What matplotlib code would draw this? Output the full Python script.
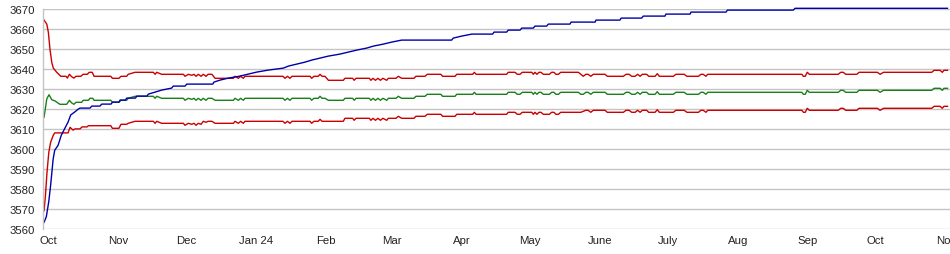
import matplotlib
matplotlib.use("Agg")
import matplotlib.pyplot as plt
import pandas as pd

plt.rcParams['font.family'] = ['Liberation Sans', 'DejaVu Sans']

# x values are days since 2023-10-01
start = pd.Timestamp("2023-10-01")
month_labels = ["Oct", "Nov", "Dec", "Jan 24", "Feb", "Mar", "Apr", "May",
                "June", "July", "Aug", "Sep", "Oct", "Nov"]
month_starts = pd.date_range("2023-10-01", periods=14, freq="MS")
yticks = list(range(3560, 3680, 10))

blue_days = [-1.7, -0.7, 0.4, 1.2, 1.8, 2.3, 3.0, 4.5, 5.9, 7.4, 8.9, 10.1, 11.8, 13.3,
             14.2, 18.6, 19.4, 23.0, 23.8, 27.9, 28.6, 31.4, 31.9, 34.3, 34.8, 38.7,
             39.3, 43.8, 44.4, 47.4, 50.3, 54.7, 55.4, 60.6, 61.4, 72.9, 73.4, 76.1,
             79.8, 84.9, 88.6, 92.3, 97.4, 104.1, 106.3, 110.0, 113.7, 116.6, 120.3,
             124.0, 129.1, 132.8, 136.5, 140.9, 143.9, 148.3, 152.0, 156.4, 178.5,
             179.2, 182.9, 187.4, 196.6, 197.2, 202.8, 203.5, 208.7, 209.5, 214.6,
             215.3, 220.5, 221.2, 230.8, 231.3, 241.9, 242.3, 252.9, 253.4, 262.5,
             263.2, 272.8, 273.2, 283.9, 284.3, 299.8, 300.4, 329.5, 330.3, 397.7]
blue_vals = [3563.5, 3566.3, 3574, 3582, 3589, 3595, 3599.5, 3602, 3607, 3610.3, 3613.6,
             3617.2, 3618.6, 3620, 3620.6, 3620.6, 3621.6, 3621.6, 3622.6, 3622.6, 3623.6,
             3623.6, 3624.6, 3624.6, 3625.6, 3625.6, 3626.6, 3626.6, 3627.6, 3628.6,
             3629.6, 3630.6, 3631.6, 3631.6, 3632.6, 3632.6, 3633.6, 3634.6, 3635.6,
             3636.6, 3637.6, 3638.6, 3639.6, 3640.6, 3641.6, 3642.6, 3643.6, 3644.6,
             3645.6, 3646.6, 3647.6, 3648.6, 3649.6, 3650.6, 3651.6, 3652.6, 3653.6,
             3654.6, 3654.6, 3655.6, 3656.6, 3657.6, 3657.6, 3658.6, 3658.6, 3659.6,
             3659.6, 3660.6, 3660.6, 3661.6, 3661.6, 3662.6, 3662.6, 3663.6, 3663.6,
             3664.6, 3664.6, 3665.6, 3665.6, 3666.6, 3666.6, 3667.6, 3667.6, 3668.6,
             3668.6, 3669.6, 3669.6, 3670.5, 3670.5]

# shared day breakpoints for the three band lines after the first weeks
mid_days = [20.4, 27.8, 28.5, 31.4, 32.3, 34.8, 35.5, 38.5, 46.6, 47.4, 48.1, 50.3,
            59.9, 60.6, 62.1, 63.6, 64.6, 65.5, 66.5, 67.7, 68.7, 69.9, 70.8, 72.5,
            73.9, 82.0, 82.7, 84.2, 85.2, 86.4, 87.1, 103.9, 104.8, 105.9, 107.0, 107.9,
            115.9, 116.6, 117.6, 119.5, 120.3, 121.2, 122.5, 124.0, 130.6, 131.3, 134.7,
            135.4, 136.2, 142.1, 142.8, 143.7, 144.8, 145.9, 147.0, 148.1, 149.8, 150.5,
            153.9, 154.9, 156.4, 161.8, 162.7, 166.7, 167.7, 173.7, 174.5, 180.0, 180.7,
            187.8, 188.5, 189.3, 202.8, 203.5, 206.5, 207.5, 208.7, 209.7, 213.9, 214.6,
            215.3, 216.2, 217.1, 218.0, 219.0, 221.7, 222.7, 223.7, 224.6, 225.7, 226.7,
            234.5, 235.6, 236.7, 237.8, 238.8, 240.0, 241.1, 246.3, 247.3, 254.4, 255.6,
            256.9, 258.1, 259.6, 260.7, 261.8, 262.8, 264.7, 265.6, 268.4, 269.4, 270.3,
            276.5, 277.6, 281.3, 282.5, 287.6, 288.7, 289.7, 290.9, 291.7, 333.3, 334.0,
            334.8, 335.7, 336.6, 349.4, 350.5, 351.6, 352.7, 357.6, 358.6, 366.7, 367.9,
            369.4, 390.7, 391.8, 394.4, 395.4, 396.1, 397.7]

upper_early_days = [-1.7, -0.5, 0.2, 0.9, 1.7, 2.4, 3.9, 5.7, 8.0, 8.6, 9.5, 10.5, 11.5,
                    12.4, 14.5, 15.6, 17.4, 18.3, 19.6]
upper_early = [3664.6, 3662.6, 3658.5, 3650.2, 3643.5, 3640.6, 3638.5, 3636.5, 3636.5,
               3635.6, 3637.5, 3636.3, 3635.6, 3636.5, 3636.5, 3637.5, 3637.5, 3638.5, 3638.5]
upper_mid = [3636.5, 3636.5, 3635.5, 3635.5, 3636.5, 3636.5, 3637.5, 3638.5, 3638.5, 3637.5,
             3638.5, 3637.5, 3637.5, 3636.5, 3637.5, 3637.0, 3637.5, 3636.5, 3637.5, 3636.5,
             3637.5, 3636.5, 3637.5, 3637.5, 3635.5, 3635.5, 3636.5, 3635.5, 3636.5, 3635.5,
             3636.5, 3636.5, 3635.5, 3636.5, 3635.5, 3636.5, 3636.5, 3635.5, 3636.5, 3636.5,
             3637.5, 3636.5, 3636.5, 3634.5, 3634.5, 3635.5, 3635.5, 3634.5, 3635.5, 3635.5,
             3634.5, 3635.5, 3634.5, 3635.5, 3634.5, 3635.5, 3634.5, 3635.5, 3635.5, 3636.5,
             3635.5, 3635.5, 3636.5, 3636.5, 3637.5, 3637.5, 3636.5, 3636.5, 3637.5, 3637.5,
             3638.5, 3637.5, 3637.5, 3638.5, 3638.5, 3637.5, 3637.5, 3638.5, 3638.5, 3637.5,
             3638.5, 3637.5, 3638.5, 3638.5, 3637.5, 3637.5, 3638.5, 3638.5, 3637.5, 3637.5,
             3638.5, 3638.5, 3637.5, 3636.5, 3637.5, 3637.5, 3636.5, 3637.5, 3637.5, 3636.5,
             3636.5, 3637.5, 3637.5, 3636.5, 3636.5, 3637.5, 3636.5, 3637.5, 3637.5, 3636.5,
             3636.5, 3637.8, 3636.5, 3636.5, 3637.5, 3637.5, 3636.5, 3636.5, 3637.5, 3637.5,
             3636.5, 3637.5, 3637.5, 3636.5, 3636.5, 3638.5, 3637.5, 3637.5, 3638.5, 3638.5,
             3637.5, 3637.5, 3638.5, 3638.5, 3637.5, 3638.5, 3638.5, 3639.5, 3639.5, 3638.5,
             3639.5, 3639.5]

green_early_days = [-1.7, -0.5, 0.5, 1.7, 3.1, 5.3, 8.3, 9.5, 10.5, 11.5, 12.4, 14.9, 15.6,
                    17.9, 18.6, 19.8]
green_early = [3616, 3625.2, 3627.3, 3624.8, 3624.2, 3622.5, 3622.5, 3624.5, 3623.2, 3622.5,
               3623.5, 3623.5, 3624.5, 3624.5, 3625.5, 3625.5]
green_mid = [3624.5, 3624.5, 3623.5, 3623.5, 3624.5, 3624.5, 3625.5, 3626.5, 3626.5, 3625.5,
             3626.5, 3625.5, 3625.5, 3624.5, 3625.5, 3625.0, 3625.5, 3624.5, 3625.5, 3624.5,
             3625.5, 3624.5, 3625.5, 3625.5, 3624.5, 3624.5, 3625.5, 3624.5, 3625.5, 3624.5,
             3625.5, 3625.5, 3624.5, 3625.5, 3624.5, 3625.5, 3625.5, 3624.5, 3625.5, 3625.5,
             3626.5, 3625.5, 3625.5, 3624.5, 3624.5, 3625.5, 3625.5, 3624.5, 3625.5, 3625.5,
             3624.5, 3625.5, 3624.5, 3625.5, 3624.5, 3625.5, 3624.5, 3625.5, 3625.5, 3626.5,
             3625.5, 3625.5, 3626.5, 3626.5, 3627.5, 3627.5, 3626.5, 3626.5, 3627.5, 3627.5,
             3628.5, 3627.5, 3627.5, 3628.5, 3628.5, 3627.5, 3627.5, 3628.5, 3628.5, 3627.5,
             3628.5, 3627.5, 3628.5, 3628.5, 3627.5, 3627.5, 3628.5, 3628.5, 3627.5, 3627.5,
             3628.5, 3628.5, 3627.5, 3627.5, 3628.5, 3628.5, 3627.5, 3628.5, 3628.5, 3627.5,
             3627.5, 3628.5, 3628.5, 3627.5, 3627.5, 3628.5, 3627.5, 3628.5, 3628.5, 3627.5,
             3627.5, 3628.8, 3627.5, 3627.5, 3628.5, 3628.5, 3627.5, 3627.5, 3628.5, 3628.5,
             3627.5, 3628.5, 3628.5, 3627.5, 3627.5, 3629.5, 3628.5, 3628.5, 3629.5, 3629.5,
             3628.5, 3628.5, 3629.5, 3629.5, 3628.5, 3629.5, 3629.5, 3630.5, 3630.5, 3629.5,
             3630.5, 3630.5]

lower_early_days = [-1.7, -1.1, -0.4, 0.4, 1.2, 2.3, 3.0, 8.9, 9.8, 11.1, 12.0, 14.2, 15.1,
                    17.3, 17.9]
lower_early = [3569.3, 3576.8, 3588.5, 3598.5, 3603.5, 3606.8, 3608.2, 3608.2, 3611, 3609.6,
               3610.2, 3610.2, 3611.2, 3611.2, 3611.8]
lower_mid = [3611.8, 3611.8, 3610.5, 3610.5, 3612.5, 3612.5, 3613, 3614, 3614, 3613,
             3614, 3613, 3613, 3612, 3613, 3612.5, 3613, 3612, 3613, 3612.5,
             3614, 3613.5, 3614, 3614, 3613, 3613, 3614, 3613, 3614, 3613,
             3614, 3614, 3613, 3614, 3613, 3614, 3614, 3613, 3614, 3614,
             3615, 3614, 3614, 3614, 3614, 3615.5, 3615.5, 3614.5, 3615.5, 3615.5,
             3614.5, 3615.5, 3614.5, 3615.5, 3614.5, 3615.5, 3614.5, 3615.5, 3615.5, 3616.5,
             3615.5, 3615.5, 3616.5, 3616.5, 3617.5, 3617.5, 3616.5, 3616.5, 3617.5, 3617.5,
             3618.5, 3617.5, 3617.5, 3618.5, 3618.5, 3617.5, 3617.5, 3618.5, 3618.5, 3617.5,
             3618.5, 3617.5, 3618.5, 3618.5, 3617.5, 3617.5, 3618.5, 3618.5, 3617.5, 3617.5,
             3618.5, 3618.5, 3618.5, 3619.0, 3619.5, 3619.5, 3618.5, 3619.5, 3619.5, 3618.5,
             3618.5, 3619.5, 3619.5, 3618.5, 3618.5, 3619.5, 3618.5, 3619.5, 3619.5, 3618.5,
             3618.5, 3619.8, 3618.5, 3618.5, 3619.5, 3619.5, 3618.5, 3618.5, 3619.5, 3619.5,
             3618.5, 3619.5, 3619.5, 3618.5, 3618.5, 3620.5, 3619.5, 3619.5, 3620.5, 3620.5,
             3619.5, 3619.5, 3620.5, 3620.5, 3619.5, 3620.5, 3620.5, 3621.5, 3621.5, 3620.5,
             3621.5, 3621.5]

RED = "#cc0000"
GREEN = "#1a7f1a"
BLUE = "#0000aa"
GRID = "#c4c4c4"

fig = plt.figure(figsize=(9.5, 2.55), dpi=100)
ax = fig.add_axes([43 / 950, 24.7 / 255, 907 / 950, 220 / 255])

tick_pos = [(d - start).days for d in month_starts]

ax.set_xlim(-2.17, 398.8)
ax.set_ylim(3560, 3670)
ax.set_yticks(yticks)
ax.set_xticks(tick_pos)
ax.set_xticklabels(month_labels)
ax.yaxis.grid(True, color=GRID, linewidth=1.0)
ax.set_axisbelow(True)
for s in ["top", "right", "bottom"]:
    ax.spines[s].set_visible(False)
ax.spines["left"].set_color(GRID)
ax.spines["left"].set_linewidth(1.0)
ax.tick_params(axis="both", length=0, labelsize=8.2, colors="#222222")
ax.tick_params(axis="y", pad=6)
ax.tick_params(axis="x", pad=4)

lw = 1.0
ax.plot(upper_early_days + mid_days, upper_early + upper_mid, color=RED, lw=lw, clip_on=False)
ax.plot(lower_early_days + mid_days, lower_early + lower_mid, color=RED, lw=lw, clip_on=False)
ax.plot(green_early_days + mid_days, green_early + green_mid, color=GREEN, lw=lw, clip_on=False)
ax.plot(blue_days, blue_vals, color=BLUE, lw=lw, clip_on=False)

fig.savefig("out.png", dpi=100)
